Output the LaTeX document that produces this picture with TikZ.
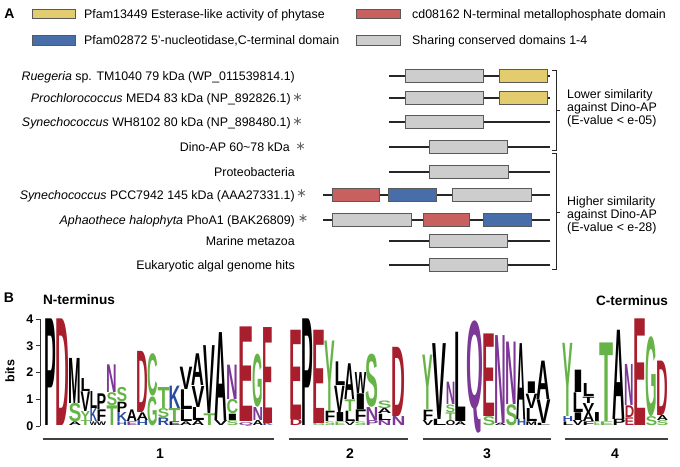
\documentclass[tikz,border=0pt]{standalone}
\usepackage{fontspec}
\setmainfont{Liberation Sans}
\newfontfamily\dejavu{DejaVu Sans}
\usepackage{graphicx}
\definecolor{lr}{RGB}{168,30,45}
\definecolor{lg}{RGB}{102,180,72}
\definecolor{lb}{RGB}{40,75,160}
\definecolor{lp}{RGB}{125,55,150}
\definecolor{lk}{RGB}{0,0,0}
\definecolor{dy}{RGB}{226,204,110}
\definecolor{drd}{RGB}{201,96,96}
\definecolor{dbl}{RGB}{72,110,170}
\definecolor{dgr}{RGB}{205,205,205}
\newcommand\logocol[3]{%
  \gdef\cumb{0}%
  \foreach \L/\c/\h in {#3}{%
    \pgfmathsetlengthmacro\hh{\h*26.75-0.4}%
    \pgfmathsetlengthmacro\ww{#2-0.3}%
    \pgfmathsetmacro\yb{426-26.75*\cumb-0.2}%
    \node[inner sep=0pt, outer sep=0pt, anchor=south west, text=\c] at (#1+0.15,\yb) {\resizebox*{\ww}{\hh}{\bfseries\kern-0.03em\L\kern-0.03em}};
    \pgfmathsetmacro\tmp{\cumb+\h}\xdef\cumb{\tmp}%
  }}
\newcommand\dom[4]{\draw[dombox,fill=#4] (#1,#3-6.5) rectangle (#2,#3+6.5);}
\begin{document}
\begin{tikzpicture}[x=1pt,y=-1pt,
  txt/.style={font=\fontsize{12.4}{14}\selectfont, inner sep=0pt},
  lbl/.style={txt, anchor=base east},
  star/.style={font=\dejavu\fontsize{12.5}{13}\selectfont, text=black!60, inner sep=0pt},
  backbone/.style={line width=1.8pt, black!85},
  dombox/.style={draw=black!65, line width=0.9pt},
  legbox/.style={draw=black!65, line width=0.9pt},
  brk/.style={line width=1pt, black!85},
  panel/.style={font=\fontsize{14}{16}\selectfont\bfseries, inner sep=0pt},
  grp/.style={line width=1.4pt, black!75},
  tick/.style={font=\fontsize{12.5}{14}\selectfont\bfseries, inner sep=0pt, anchor=east}]
\useasboundingbox (0,0) rectangle (680,466);
% panel labels
\node[panel] (pA) at (9.5,14) {A};
\node[panel] (pB) at (9,297.5) {B};
% legend
\draw[legbox,fill=dy] (32,9) rectangle (75,18);
\node[txt,anchor=base west] (l1) at (84,18.5) {Pfam13449 Esterase-like activity of phytase};
\draw[legbox,fill=dbl] (32,35) rectangle (75,45);
\node[txt,anchor=base west] (l2) at (84,44.5) {Pfam02872 5'-nucleotidase,C-terminal domain};
\draw[legbox,fill=drd] (356,9) rectangle (400,18);
\node[txt,anchor=base west] (l3) at (412,18.5) {cd08162 N-terminal metallophosphate domain};
\draw[legbox,fill=dgr] (356,35) rectangle (400,45);
\node[txt,anchor=base west] (l4) at (412,44.5) {Sharing conserved domains 1-4};
% row labels
\node[lbl] (r1) at (295,80.4) {\textit{Ruegeria} sp. TM1040 79 kDa (WP\_011539814.1)};
\node[lbl] (r2) at (291,102.4) {\textit{Prochlorococcus} MED4 83 kDa (NP\_892826.1)};
\node[star] (s2) at (297.5,97.5) {∗};
\node[lbl] (r3) at (291,126.4) {\textit{Synechococcus} WH8102 80 kDa (NP\_898480.1)};
\node[star] (s3) at (297.5,121.5) {∗};
\node[lbl] (r4) at (290,151.4) {Dino-AP 60\textasciitilde78 kDa};
\node[star] (s4) at (300.5,146.5) {∗};
\node[lbl] (r5) at (295,176.4) {Proteobacteria};
\node[lbl] (r6) at (295,199.4) {\textit{Synechococcus} PCC7942 145 kDa (AAA27331.1)};
\node[star] (s6) at (301.5,193.5) {∗};
\node[lbl] (r7) at (295,224.4) {\textit{Aphaothece halophyta} PhoA1 (BAK26809)};
\node[star] (s7) at (303,218.5) {∗};
\node[lbl] (r8) at (295,245.4) {Marine metazoa};
\node[lbl] (r9) at (295,269.4) {Eukaryotic algal genome hits};
% backbones and domains
\draw[backbone] (389,76) -- (550,76);
\dom{405}{483}{76}{dgr}\dom{499}{547}{76}{dy}
\draw[backbone] (389,98) -- (550,98);
\dom{405}{483}{98}{dgr}\dom{499}{547}{98}{dy}
\draw[backbone] (389,122) -- (550,122);
\dom{405}{483}{122}{dgr}
\draw[backbone] (389,147) -- (550,147);
\dom{429}{507}{147}{dgr}
\draw[backbone] (389,172) -- (550,172);
\dom{429}{508}{172}{dgr}
\draw[backbone] (323,195) -- (550,195);
\dom{332}{379}{195}{drd}\dom{388}{436}{195}{dbl}\dom{452}{531}{195}{dgr}
\draw[backbone] (323,220) -- (550,220);
\dom{332}{411}{220}{dgr}\dom{423}{469}{220}{drd}\dom{483}{531}{220}{dbl}
\draw[backbone] (389,241) -- (550,241);
\dom{429}{507}{241}{dgr}
\draw[backbone] (389,265) -- (550,265);
\dom{429}{507}{265}{dgr}
% brackets
\draw[brk] (552,70) -- (556,70) -- (556,150) -- (552,150);
\draw[brk] (556,110) -- (560,110);
\draw[brk] (552,153) -- (556,153) -- (556,269) -- (552,269);
\draw[brk] (556,212) -- (560,212);
\node[txt,anchor=west,align=left,font=\fontsize{12.4}{13.2}\selectfont] (t1) at (567,108) {Lower similarity\\against Dino-AP\\(E-value < e-05)};
\node[txt,anchor=west,align=left,font=\fontsize{12.4}{13.2}\selectfont] (t2) at (567,215) {Higher similarity\\against Dino-AP\\(E-value < e-28)};
% panel B axis
\node[font=\fontsize{13.6}{15}\selectfont\bfseries, inner sep=0pt] (nt) at (79,300) {N-terminus};
\node[font=\fontsize{13.6}{15}\selectfont\bfseries, inner sep=0pt] (ct) at (632,301) {C-terminus};
\node[font=\fontsize{12.5}{14}\selectfont\bfseries, inner sep=0pt, rotate=90] (bits) at (10,371) {bits};
\draw[line width=1pt, black!80] (40,319) -- (40,426);
\foreach \i in {0,...,4}{
  \draw[line width=1pt, black!80] (36,{426-26.75*\i}) -- (40,{426-26.75*\i});
  \node[tick] at (33.5,{426-26.75*\i}) {\i};
}
% group brackets
\draw[grp] (43,439) -- (274,439);
\draw[grp] (289,439) -- (408,439);
\draw[grp] (423,439) -- (551,439);
\draw[grp] (565,439) -- (668,439);
\node[font=\fontsize{14}{16}\selectfont\bfseries, inner sep=0pt] (g1) at (160,454) {1};
\node[font=\fontsize{14}{16}\selectfont\bfseries, inner sep=0pt] (g2) at (350,454) {2};
\node[font=\fontsize{14}{16}\selectfont\bfseries, inner sep=0pt] (g3) at (487,454) {3};
\node[font=\fontsize{14}{16}\selectfont\bfseries, inner sep=0pt] (g4) at (615,454) {4};
% logo group 1
\logocol{45}{11}{P/lk/4.0}
\logocol{56}{13}{D/lr/4.0}
\logocol{69}{12}{A/lk/.15, S/lg/.7, M/lk/1.7}
\logocol{81}{9}{T/lg/.2, Y/lg/.35, V/lk/.75, L/lk/.5}
\logocol{90}{7}{W/lk/.15, K/lb/.5, L/lk/.65}
\logocol{97}{9}{W/lk/.15, F/lk/.45, P/lk/.6}
\logocol{107}{10}{T/lg/.75, S/lg/.5, N/lp/1.05}
\logocol{117}{10}{H/lb/.15, K/lb/.35, P/lk/.4, S/lg/.55}
\logocol{127}{10}{E/lp/.15, A/lk/.45}
\logocol{137}{11}{H/lb/.2, A/lk/.3, D/lr/2.3}
\logocol{148}{10}{G/lg/1.1, C/lg/1.6}
\logocol{158}{11}{R/lb/.3, S/lg/.35, T/lg/.8}
\logocol{169}{11}{E/lk/.15, T/lg/.5, K/lb/.85}
\logocol{180}{12}{A/lk/.15, L/lk/.45, L/lk/.75, V/lk/.85}
\logocol{192}{12}{A/lk/.2, L/lk/.5, V/lk/.8, A/lk/1.2}
\logocol{204}{11}{T/lg/.45, V/lk/2.55}
\logocol{215}{12}{V/lk/.2, A/lk/3.3}
\logocol{227}{11}{S/lg/.2, I/lk/.25, C/lg/.55, N/lp/1.3}
\logocol{239}{14}{Q/lp/.15, E/lr/3.55}
\logocol{253}{10}{A/lk/.2, N/lp/.5, G/lg/2.0}
\logocol{263}{10}{K/lb/.1, E/lr/3.6}
% logo group 2
\logocol{290}{12}{D/lr/.25, E/lr/3.35}
\logocol{302}{11}{P/lk/4.0}
\logocol{313}{12}{G/lg/.1, E/lr/3.5}
\logocol{325}{10}{S/lg/.15, F/lk/.4, Y/lg/2.65}
\logocol{335}{10}{E/lg/.15, I/lk/.35, V/lk/1.0, L/lk/.9}
\logocol{345}{10}{V/lk/.15, L/lk/.4, T/lg/.45, A/lk/1.35}
\logocol{355}{11}{S/lg/.15, F/lk/.45, I/lk/.6, W/lk/.8}
\logocol{366}{12}{P/lp/.2, N/lp/.5, S/lg/2.0}
\logocol{378}{13}{N/lp/.2, L/lk/.25, A/lk/.2, S/lg/.3}
\logocol{392}{13}{N/lp/.35, D/lr/2.6}
% logo group 3
\logocol{423}{10}{V/lk/.2, F/lk/.4, Y/lg/2.05}
\logocol{433}{13}{L/lk/.25, V/lk/2.85}
\logocol{446}{9}{O/lk/.2, T/lg/.3, S/lg/.3, N/lp/.85}
\logocol{455}{11}{A/lk/.15, L/lk/3.35}
\node[inner sep=0pt, outer sep=0pt, anchor=south west, text=lp] (qq) at (467.2,432.7) {\resizebox*{15.6pt}{112.3pt}{\bfseries\kern-0.03em Q\kern-0.03em}};
\logocol{483}{12}{S/lg/.35, E/lr/3.1}
\logocol{495}{11}{A/lk/.1, N/lp/3.3}
\logocol{506}{11}{S/lg/.8, N/lp/2.35}
\logocol{517}{9}{H/lb/.25, A/lk/2.85}
\logocol{526}{11}{M/lk/.15, L/lk/.5, V/lk/.55, I/lk/.45}
\logocol{537}{13}{L/lk/.1, V/lk/.9, A/lk/1.45}
% logo group 4
\logocol{563}{10}{L/lk/.15, H/lb/.2, Y/lg/2.75}
\logocol{573}{10}{V/lk/.2, I/lk/.3, L/lk/.75, I/lk/.85}
\logocol{583}{11}{F/lk/.15, A/lk/.35, V/lk/.35, T/lk/.25, L/lk/.5}
\logocol{594}{6}{E/lg/.15, I/lk/.35}
\logocol{600}{13}{E/lg/.15, T/lg/2.95}
\logocol{613}{12}{P/lk/.25, A/lk/3.35}
\logocol{625}{9}{E/lr/.3, D/lr/.45, N/lp/1.55}
\logocol{634}{12}{E/lr/4.0}
\logocol{646}{11}{S/lg/.35, G/lg/3.0}
\logocol{657}{11}{S/lg/.2, A/lk/.2, D/lr/2.05}
\end{tikzpicture}
\end{document}
